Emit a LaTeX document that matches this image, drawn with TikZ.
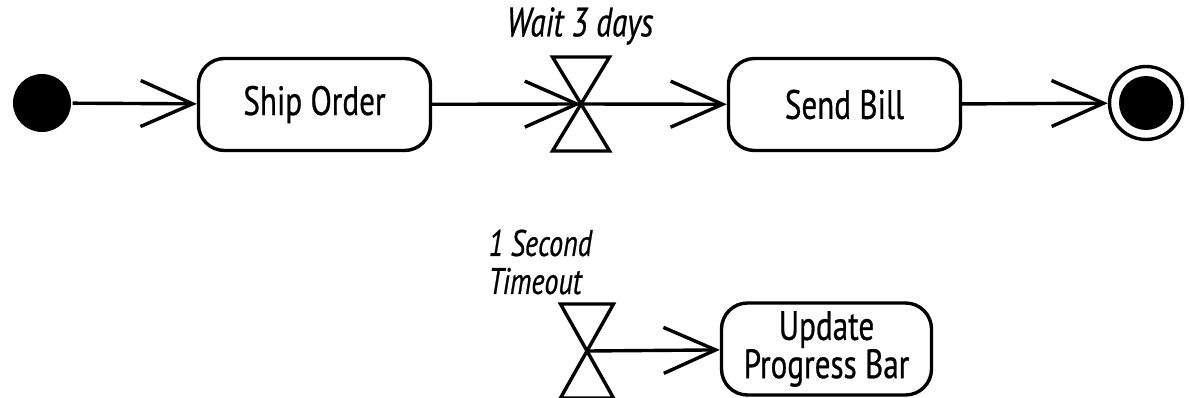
\documentclass[tikz,border=0pt]{standalone}
\usepackage{fontspec}
\setmainfont{PT Sans}[FakeStretch=0.76,FakeBold=0.6]
\usetikzlibrary{arrows.meta}
\begin{document}
\begin{tikzpicture}[x=1pt,y=-1pt,
  line width=3.4pt,
  flow/.style={-{Straight Barb[length=52pt,width=46pt,line width=3.4pt]}},
  activity/.style={draw,rectangle,rounded corners=26pt,minimum height=92pt,
    inner sep=0pt,align=center,font=\fontsize{41}{37}\selectfont},
  lbl/.style={font=\fontsize{41}{35}\selectfont\itshape,inner sep=0pt},
  hourglass/.style={line join=miter}]
\useasboundingbox (0,0) rectangle (1190,397);

% initial and final nodes
\node (init) [circle,fill=black,minimum size=58pt,inner sep=0pt] at (42,103) {};
\node (final) [circle,draw,minimum size=73pt,inner sep=0pt] at (1146,103) {};
\node (finalin) [circle,fill=black,minimum size=54pt,inner sep=0pt] at (1146,103) {};

% activities
\node (ship) [activity,minimum width=232pt] at (314.5,104.5) {Ship Order};
\node (bill) [activity,minimum width=232pt] at (844.5,104.5) {Send Bill};
\node (upd)  [activity,minimum width=210pt] at (826.5,349) {Update\\Progress Bar};

% time events
\coordinate (w1) at (581,104);
\coordinate (w2) at (587,351);
\draw[hourglass] ([shift={(-28.5,-47)}]w1) -- ([shift={(28.5,-47)}]w1)
  -- ([shift={(-28.5,47)}]w1) -- ([shift={(28.5,47)}]w1) -- cycle;
\draw[hourglass] ([shift={(-26.5,-47)}]w2) -- ([shift={(26.5,-47)}]w2)
  -- ([shift={(-26.5,47)}]w2) -- ([shift={(26.5,47)}]w2) -- cycle;
\node (l1) [lbl] at (580,26) {Wait 3 days};
\node (l2) [lbl,anchor=west,align=left,font=\fontsize{37}{38}\selectfont\itshape]
  at (487,262) {1 Second\\Timeout};

% flows
\draw[flow] (init) -- (ship);
\draw[flow] (ship) -- (w1);
\draw[flow] (w1) -- (bill);
\draw[flow] (bill) -- (final);
\draw[flow] (w2) -- (upd);
\end{tikzpicture}
\end{document}
